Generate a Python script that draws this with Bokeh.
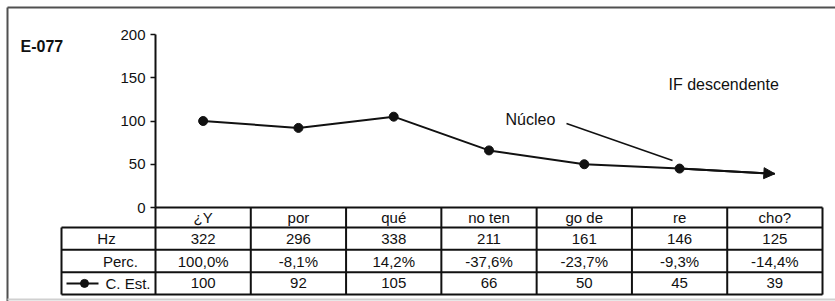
from bokeh.plotting import figure
from bokeh.models import LinearAxis, FixedTicker, Range1d, Arrow, NormalHead
from bokeh.core.properties import value
from bokeh.embed import file_html
from bokeh.resources import INLINE

# ---- data ----
categories = ["¿Y", "por", "qué", "no ten", "go de", "re", "cho?"]
hz_values = [322, 296, 338, 211, 161, 146, 125]
perc_labels = ["100,0%", "-8,1%", "14,2%", "-37,6%", "-23,7%", "-9,3%", "-14,4%"]
c_est = [100, 92, 105, 66, 50, 45, 39]
row_labels = ["Hz", "Perc.", "C. Est."]
y_ticks = [0, 50, 100, 150, 200]

FONT = "Liberation Sans"
INK = "#111111"

n = len(categories)
xc = [i + 0.5 for i in range(n)]

W, H = 835, 301
px_x = 95.286          # pixels per category unit
px_y = 0.865           # pixels per value unit
AX_PX, ZERO_PX = 155, 207   # pixel position of axis and of value 0
x0 = -AX_PX / px_x
y1 = ZERO_PX / px_y

def dx(px):
    return (px - AX_PX) / px_x

def dy(py):
    return (ZERO_PX - py) / px_y

p = figure(width=W, height=H, output_backend="svg", toolbar_location=None,
           x_range=Range1d(x0, x0 + W / px_x), y_range=Range1d(y1 - H / px_y, y1),
           x_axis_type=None, y_axis_type=None, min_border=0,
           background_fill_color="white", border_fill_color="white")
p.grid.visible = False
p.outline_line_color = None

# outer border (left / top dark, bottom light as in the crop)
bl, bt, bb, br = dx(7), dy(7), dy(299), dx(835)
p.segment(x0=[bl, bl], y0=[bt, bt], x1=[bl, br], y1=[dy(301), bt],
          line_color="#505050", line_width=2)
p.segment(x0=[bl], y0=[bb], x1=[br], y1=[bb], line_color="#d0d0d0", line_width=2)

# y axis at x = 0
yax = LinearAxis(fixed_location=0, bounds=(0, 200), ticker=FixedTicker(ticks=y_ticks))
yax.axis_line_width = 2
yax.axis_line_color = INK
yax.major_tick_in = 0
yax.major_tick_out = 5
yax.major_tick_line_width = 1.5
yax.major_tick_line_color = INK
yax.minor_tick_line_color = None
yax.major_label_text_font = FONT
yax.major_label_text_font_size = "15px"
yax.major_label_text_color = INK
yax.major_label_standoff = 5
p.add_layout(yax, "left")

# ---- data table ----
row_edges = [0, -23, -48.9, -74.8, -100.7]
label_left = dx(61)
hx0 = [0] + [label_left] * 4
hx1 = [n] * 5
p.segment(x0=hx0, y0=row_edges, x1=hx1, y1=row_edges, line_color=INK, line_width=2)
vx = list(range(n + 1)) + [label_left]
vy0 = [0] * (n + 1) + [row_edges[1]]
vy1 = [row_edges[-1]] * (n + 2)
p.segment(x0=vx, y0=vy0, x1=vx, y1=vy1, line_color=INK, line_width=2)

row_mid = [(row_edges[i] + row_edges[i + 1]) / 2 for i in range(4)]
common = dict(text_font=value(FONT), text_font_size="15px", text_color=INK,
              text_baseline="middle")
p.text(x=xc, y=[row_mid[0]] * n, text=categories, text_align="center", **common)
p.text(x=xc, y=[row_mid[1]] * n, text=[str(v) for v in hz_values], text_align="center", **common)
p.text(x=xc, y=[row_mid[2]] * n, text=perc_labels, text_align="center", **common)
p.text(x=xc, y=[row_mid[3]] * n, text=[str(v) for v in c_est], text_align="center", **common)

# row labels
p.text(x=[dx(106)], y=[row_mid[1]], text=[row_labels[0]], text_align="center", **common)
p.text(x=[dx(120)], y=[row_mid[2]], text=[row_labels[1]], text_align="center", **common)
p.text(x=[dx(150)], y=[row_mid[3]], text=[row_labels[2]], text_align="right", **common)
# legend key
p.line(x=[dx(66), dx(98)], y=[row_mid[3]] * 2, line_color=INK, line_width=2)
p.scatter(x=[dx(84)], y=[row_mid[3]], size=8, color=INK)

# ---- series ----
p.line(x=xc, y=c_est, line_color=INK, line_width=2)
p.scatter(x=xc[:-1], y=c_est[:-1], size=9, color=INK)
p.add_layout(Arrow(end=NormalHead(size=11, fill_color=INK, line_color=INK),
                   x_start=xc[-2], y_start=c_est[-2], x_end=xc[-1], y_end=c_est[-1],
                   line_color=INK, line_width=2))

# ---- annotations ----
ann = dict(text_font=value(FONT), text_font_size="16px", text_color=INK,
           text_baseline="middle", text_align="left")
p.text(x=[dx(20)], y=[dy(46)], text=["E-077"], text_font_style="bold", **ann)
p.text(x=[dx(668)], y=[dy(84)], text=["IF descendente"], **ann)
p.text(x=[dx(505)], y=[dy(119)], text=["Núcleo"], **ann)
p.segment(x0=[dx(566)], y0=[dy(123)], x1=[dx(672)], y1=[dy(160)],
          line_color=INK, line_width=1.5)

open("out.html", "w").write(file_html(p, INLINE))
